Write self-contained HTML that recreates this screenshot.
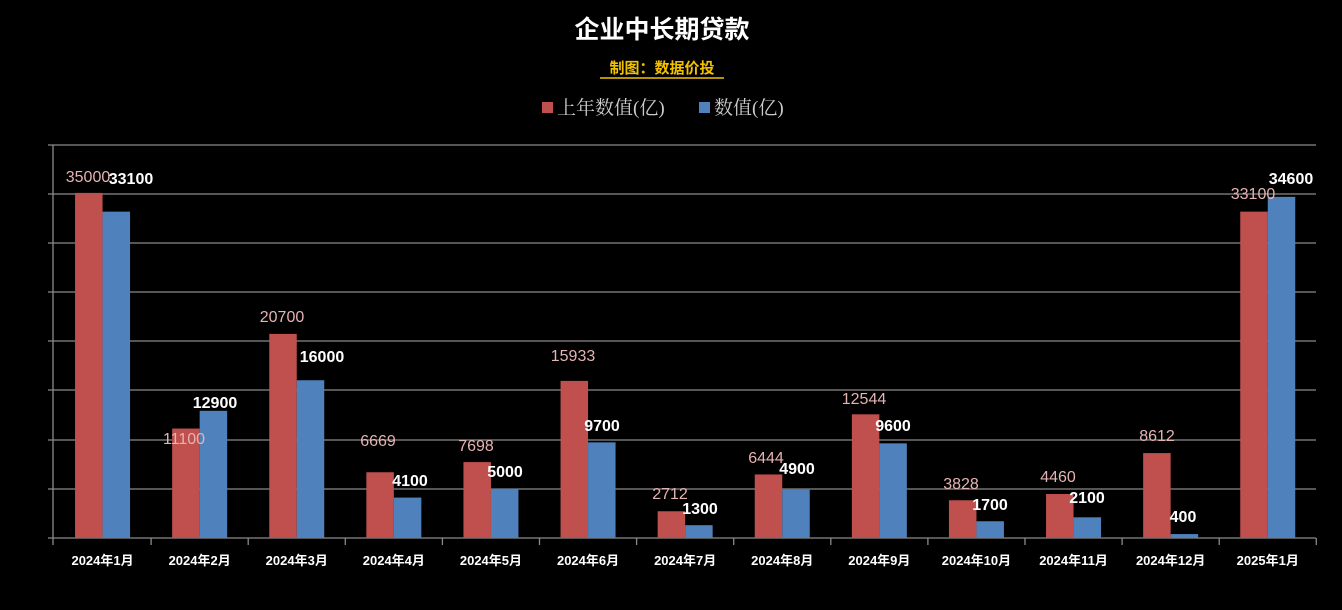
<!DOCTYPE html>
<html><head><meta charset="utf-8"><style>
html,body{margin:0;padding:0;background:#000;}
svg{display:block;}
</style></head><body>
<svg width="1342" height="610" xmlns="http://www.w3.org/2000/svg" font-family="'Liberation Sans','Noto Sans CJK SC',sans-serif">
<rect width="1342" height="610" fill="#000"/>
<text x="662" y="38" text-anchor="middle" fill="#fff" font-size="25" font-weight="bold">企业中长期贷款</text>
<text x="662" y="73" text-anchor="middle" fill="#f2c200" font-size="15" font-weight="bold">制图：数据价投</text>
<line x1="600" y1="78" x2="724" y2="78" stroke="#f2c200" stroke-width="1.5"/>
<rect x="542" y="102" width="11" height="11" fill="#c0504d"/>
<text x="557" y="114" fill="#ccc" font-size="19" font-family="'Liberation Serif','Noto Serif CJK SC',serif">上年数值(亿)</text>
<rect x="699" y="102" width="11" height="11" fill="#4f81bd"/>
<text x="714" y="114" fill="#ccc" font-size="19" font-family="'Liberation Serif','Noto Serif CJK SC',serif">数值(亿)</text>
<g stroke="#8a8a8a" stroke-width="1.3">
<line x1="48" y1="145" x2="1316" y2="145"/>
<line x1="48" y1="194" x2="1316" y2="194"/>
<line x1="48" y1="243" x2="1316" y2="243"/>
<line x1="48" y1="292" x2="1316" y2="292"/>
<line x1="48" y1="341" x2="1316" y2="341"/>
<line x1="48" y1="390" x2="1316" y2="390"/>
<line x1="48" y1="440" x2="1316" y2="440"/>
<line x1="48" y1="489" x2="1316" y2="489"/>
<line x1="48" y1="538" x2="1316" y2="538"/>
<line x1="53" y1="145" x2="53" y2="538"/>
</g>
<g id="bars"></g>
<g id="ticks" stroke="#8a8a8a" stroke-width="1.3"></g>
<g id="labels"></g>
<script>
var red=[35000,11100,20700,6669,7698,15933,2712,6444,12544,3828,4460,8612,33100];
var blue=[33100,12900,16000,4100,5000,9700,1300,4900,9600,1700,2100,400,34600];
var cats=["2024年1月","2024年2月","2024年3月","2024年4月","2024年5月","2024年6月","2024年7月","2024年8月","2024年9月","2024年10月","2024年11月","2024年12月","2025年1月"];
var rl=[[88,176],[184,438],[282,316],[378,440],[476,445],[573,355],[670,493],[766,457],[864,398],[961,483],[1058,476],[1157,435],[1253,193]];
var bl=[[131,178],[215,402],[322,356],[410,480],[505,471],[602,425],[700,508],[797,468],[893,425],[990,504],[1087,497],[1183,516],[1291,178]];
var ns="http://www.w3.org/2000/svg";
function el(t,a,p,txt){var e=document.createElementNS(ns,t);for(var k in a)e.setAttribute(k,a[k]);if(txt)e.textContent=txt;document.getElementById(p).appendChild(e);}
var L=54,S=97.1,B=538,K=0.00986,W=27.5;
for(var i=0;i<13;i++){
 var c=L+S*(i+0.5);
 var h=red[i]*K; el("rect",{x:c-W,y:B-h,width:W,height:h,fill:"#c0504d"},"bars");
 h=blue[i]*K; el("rect",{x:c,y:B-h,width:W,height:h,fill:"#4f81bd"},"bars");
 el("line",{x1:L+S*(i+1),y1:B,x2:L+S*(i+1),y2:B+7},"ticks");
 el("text",{x:c,y:565,"text-anchor":"middle",fill:"#fff","font-size":"13","font-weight":"bold"},"labels",cats[i]);
 el("text",{x:rl[i][0],y:rl[i][1]+6,"text-anchor":"middle",fill:"#e6b3b3","font-size":"16"},"labels",""+red[i]);
 el("text",{x:bl[i][0],y:bl[i][1]+6,"text-anchor":"middle",fill:"#fff","font-size":"16","font-weight":"bold"},"labels",""+blue[i]);
}
el("line",{x1:53,y1:B,x2:53,y2:B+7},"ticks");
</script>
</svg>
</body></html>
